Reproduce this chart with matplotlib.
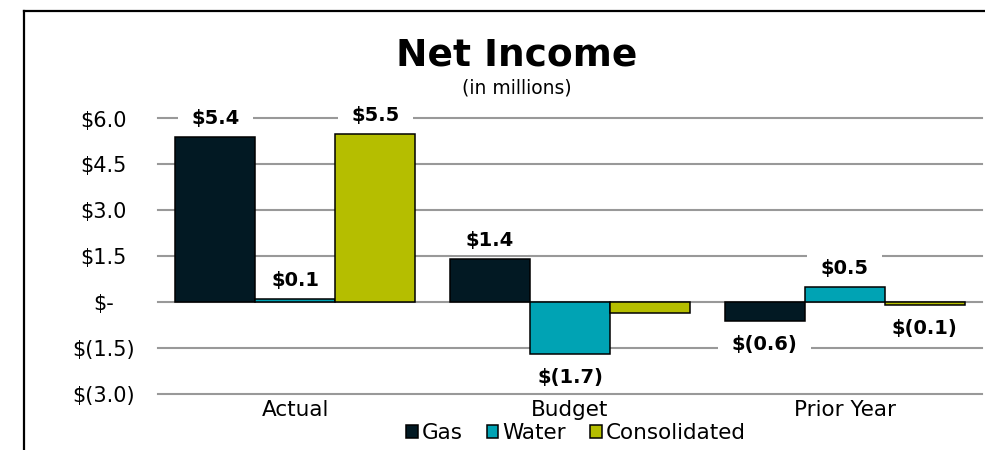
import numpy as np
import matplotlib.pyplot as plt
from matplotlib.lines import Line2D
from matplotlib.path import Path

plt.rcParams['font.family'] = ['DejaVu Sans']

# net income by segment, $ millions
categories = ['Actual', 'Budget', 'Prior Year']
series = ['Gas', 'Water', 'Consolidated']
gas = [5.4, 1.4, -0.6]
water = [0.1, -1.7, 0.5]
consolidated = [5.5, -0.35, -0.1]
# budget consolidated has no value label on the slide
show_label = [[True, True, True], [True, True, True], [True, False, True]]
yticks = [6.0, 4.5, 3.0, 1.5, 0.0, -1.5, -3.0]
ytick_labels = ['$6.0', '$4.5', '$3.0', '$1.5', '$-', '$(1.5)', '$(3.0)']

colors = ['#021923', '#00A3B4', '#B5BE00']


def money(v):
    if v < 0:
        return '$(%.1f)' % -v
    return '$%.1f' % v


def label_box(x0, y0, width, height, mutation_size):
    # plain white rectangle, wider padding left/right than top/bottom
    px = 0.7 * mutation_size
    py = 0.25 * mutation_size
    x0, y0 = x0 - px, y0 - py
    x1, y1 = x0 + width + 2 * px, y0 + height + 2 * py
    return Path([(x0, y0), (x1, y0), (x1, y1), (x0, y1), (x0, y0)], closed=True)


fig = plt.figure(figsize=(9.85, 4.5), dpi=100)
ax = fig.add_axes([158 / 985, 1 - 394 / 450, 824 / 985, (394 - 118.5) / 450])

x = np.arange(len(categories))
w = 0.291
for i, (name, vals) in enumerate(zip(series, [gas, water, consolidated])):
    xs = x + (i - 1) * w
    ax.bar(xs, vals, w, color=colors[i], edgecolor='black', linewidth=1.1,
           label=name, zorder=3)
    for j, v in enumerate(vals):
        if not show_label[i][j]:
            continue
        off = 13.5 if v >= 0 else -17
        ax.annotate(money(v), (xs[j], v), xytext=(0, off), textcoords='offset points',
                    ha='center', va='center', fontsize=14, fontweight='bold',
                    bbox=dict(boxstyle=label_box, fc='white', ec='none'),
                    zorder=5, annotation_clip=False)

ax.set_xlim(-0.5, 2.5)
ax.set_ylim(-3, 6)
ax.set_yticks(yticks)
ax.set_yticklabels(ytick_labels)
ax.set_xticks(x)
ax.set_xticklabels(categories)
ax.tick_params(axis='y', length=0, pad=39, labelsize=15)
ax.tick_params(axis='x', length=0, pad=4, labelsize=15.5)
for t in ax.get_yticklabels():
    t.set_horizontalalignment('center')
ax.grid(axis='y', color='#999999', linewidth=1.5, zorder=0)
for gl in ax.get_ygridlines():
    gl.set_clip_on(False)
ax.set_axisbelow(True)
for s in ax.spines.values():
    s.set_visible(False)

fig.text(517 / 985, 1 - 66 / 450, 'Net Income', ha='center', va='baseline',
         fontsize=27, fontweight='bold')
fig.text(517 / 985, 1 - 88 / 450, '(in millions)', ha='center', va='center', fontsize=13.5)

fig.legend(loc='center', bbox_to_anchor=(576 / 985, 1 - 433 / 450), ncol=3,
           frameon=False, fontsize=15.5, handlelength=0.55, handleheight=0.55,
           handletextpad=0.2, columnspacing=1.1, borderpad=0)

# chart frame: left and top edges
fx, fy = 24 / 985, 1 - 11 / 450
fig.add_artist(Line2D([fx, fx], [0, fy], color='black', linewidth=1.6))
fig.add_artist(Line2D([fx, 1], [fy, fy], color='black', linewidth=1.6))

fig.savefig('out.png', dpi=100)
